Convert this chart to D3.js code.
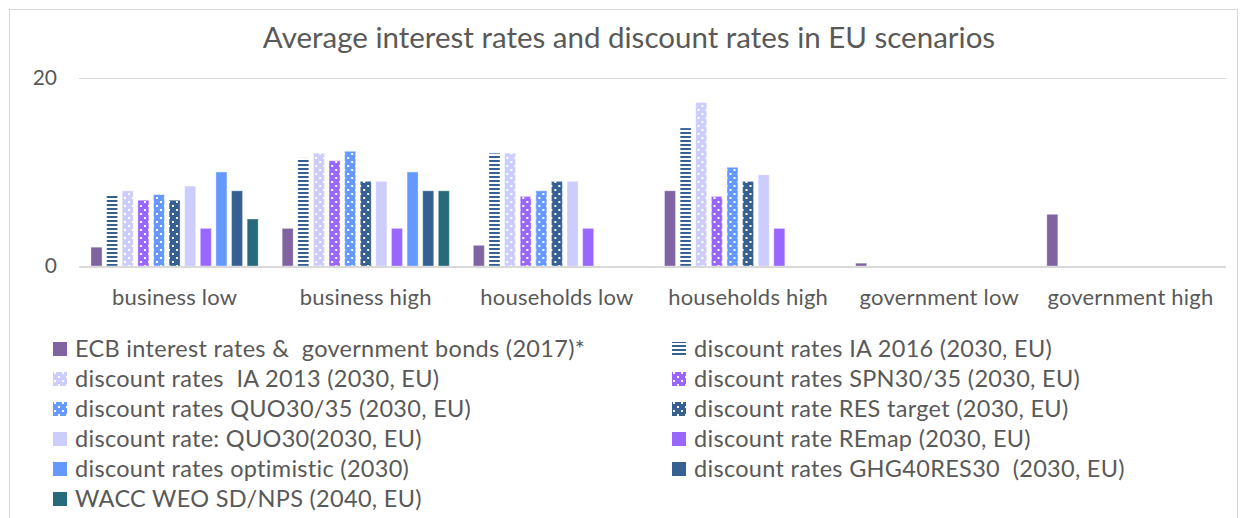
<!DOCTYPE html>
<html>
<head>
<meta charset="utf-8">
<script src="https://cdn.jsdelivr.net/npm/d3@7/dist/d3.min.js"></script>
<style>
  html, body { margin: 0; padding: 0; background: #fff; }
  svg { display: block; }
  text { font-family: Lato, "Open Sans", sans-serif; fill: #595959; white-space: pre; }
</style>
</head>
<body>
<svg id="chart" width="1246" height="518"></svg>
<script>
// ---------- data ----------
const title = "Average interest rates and discount rates in EU scenarios";
const categories = ["business low", "business high", "households low", "households high", "government low", "government high"];
const seriesNames = [
  "ECB interest rates &  government bonds (2017)*",
  "discount rates IA 2016 (2030, EU)",
  "discount rates  IA 2013 (2030, EU)",
  "discount rates SPN30/35 (2030, EU)",
  "discount rates QUO30/35 (2030, EU)",
  "discount rate RES target (2030, EU)",
  "discount rate: QUO30(2030, EU)",
  "discount rate REmap (2030, EU)",
  "discount rates optimistic (2030)",
  "discount rates GHG40RES30  (2030, EU)",
  "WACC WEO SD/NPS (2040, EU)"
];
const ecbRates   = [2, 4, 2.2, 8, 0.3, 5.5];
const ia2016     = [7.5, 11.5, 12, 14.7, null, null];
const ia2013     = [8, 12, 12, 17.4, null, null];
const spn3035    = [7, 11.2, 7.4, 7.4, null, null];
const quo3035    = [7.6, 12.2, 8, 10.5, null, null];
const resTarget  = [7, 9, 9, 9, null, null];
const quo30      = [8.5, 9, 9, 9.7, null, null];
const remap      = [4, 4, 4, 4, null, null];
const optimistic = [10, 10, null, null, null, null];
const ghg40res30 = [8, 8, null, null, null, null];
const waccWeo    = [5, 8, null, null, null, null];
const yTicks = [0, 20];

const seriesValues = [ecbRates, ia2016, ia2013, spn3035, quo3035, resTarget, quo30, remap, optimistic, ghg40res30, waccWeo];

// ---------- styles ----------
const fills = [
  "#8064A2", "url(#stripes)", "url(#dotsLav)", "url(#dotsPurple)", "url(#dotsBlue)",
  "url(#dotsNavy)", "#CCCCFF", "#9966FF", "#6699FF", "#376092", "#276A7B"
];

const svg = d3.select("#chart");

// chart border
svg.append("rect").attr("x", 9.5).attr("y", 9.5).attr("width", 1228).attr("height", 530)
  .attr("fill", "#fff").attr("stroke", "#D9D9D9").attr("stroke-width", 1);

// patterns
const defs = svg.append("defs");
const stripes = defs.append("pattern").attr("id", "stripes").attr("patternUnits", "userSpaceOnUse")
  .attr("width", 4).attr("height", 4);
stripes.append("rect").attr("width", 4).attr("height", 4).attr("fill", "#fff");
stripes.append("rect").attr("y", 0).attr("width", 4).attr("height", 2).attr("fill", "#376092");

function dots(id, color) {
  const p = defs.append("pattern").attr("id", id).attr("patternUnits", "userSpaceOnUse")
    .attr("width", 8).attr("height", 8);
  p.append("rect").attr("width", 8).attr("height", 8).attr("fill", color);
  p.append("rect").attr("x", 1).attr("y", 1).attr("width", 2).attr("height", 2).attr("fill", "#fff");
  p.append("rect").attr("x", 5).attr("y", 5).attr("width", 2).attr("height", 2).attr("fill", "#fff");
}
dots("dotsLav", "#CCCCFF");
dots("dotsPurple", "#9966FF");
dots("dotsBlue", "#6699FF");
dots("dotsNavy", "#376092");

// scales
const plot = { left: 79, right: 1226, top: 78, bottom: 266 };
const x0 = d3.scaleBand().domain(categories).range([plot.left, plot.right]).padding(0);
const x1 = d3.scaleBand().domain(d3.range(seriesNames.length))
  .range([12, x0.bandwidth() - 12]).paddingInner(0.295).paddingOuter(0);
const y = d3.scaleLinear().domain([0, 20]).range([plot.bottom, plot.top]);

// title
svg.append("text").attr("x", 629).attr("y", 48).attr("text-anchor", "middle")
  .style("font-size", "29.5px").text(title);

// gridlines
svg.append("g").selectAll("line").data(yTicks.filter(d => d !== 0)).join("line")
  .attr("x1", plot.left).attr("x2", plot.right)
  .attr("y1", d => Math.round(y(d)) + 0.5).attr("y2", d => Math.round(y(d)) + 0.5)
  .attr("stroke", "#D9D9D9").attr("stroke-width", 1);

// y axis labels
const yAxis = d3.axisLeft(y).tickValues(yTicks).tickSize(0).tickPadding(0);
const yG = svg.append("g").attr("transform", `translate(${57},0)`).call(yAxis);
yG.select(".domain").remove();
yG.selectAll("text").style("font-size", "21px").attr("fill", "#595959").attr("font-family", "Lato");

// bars
const groups = svg.append("g").selectAll("g").data(categories).join("g")
  .attr("transform", d => `translate(${x0(d)},0)`);
groups.selectAll("rect")
  .data((c, ci) => seriesValues.map((vals, si) => ({ si, v: vals[ci] })).filter(d => d.v != null && d.v > 0))
  .join("rect")
  .attr("x", d => x1(d.si))
  .attr("width", x1.bandwidth())
  .attr("y", d => y(d.v))
  .attr("height", d => y(0) - y(d.v))
  .attr("fill", d => fills[d.si])
  .attr("stroke", "#ffffff").attr("stroke-opacity", 0.35).attr("stroke-width", 1);

// baseline
svg.append("line").attr("x1", plot.left).attr("x2", plot.right)
  .attr("y1", plot.bottom + 1).attr("y2", plot.bottom + 1)
  .attr("stroke", "#D9D9D9").attr("stroke-width", 2);

// x axis labels
const xAxis = d3.axisBottom(x0).tickSize(0).tickPadding(0);
const xG = svg.append("g").attr("transform", `translate(0,${305})`).call(xAxis);
xG.select(".domain").remove();
xG.selectAll("text").attr("dy", 0).style("font-size", "22px").style("letter-spacing", "0.2px")
  .attr("fill", "#595959").attr("font-family", "Lato");

// legend
const legCols = [53, 672];
const legend = svg.append("g").selectAll("g").data(seriesNames).join("g")
  .attr("transform", (d, i) => `translate(${legCols[i % 2]},${349 + Math.floor(i / 2) * 30})`);
legend.append("rect").attr("x", 0).attr("y", -7).attr("width", 14).attr("height", 14)
  .attr("fill", (d, i) => fills[i]);
legend.append("text").attr("x", 22).attr("y", 0).attr("dy", "0.36em")
  .style("font-size", "23.5px").style("letter-spacing", "0.3px").text(d => d);
</script>
</body>
</html>
